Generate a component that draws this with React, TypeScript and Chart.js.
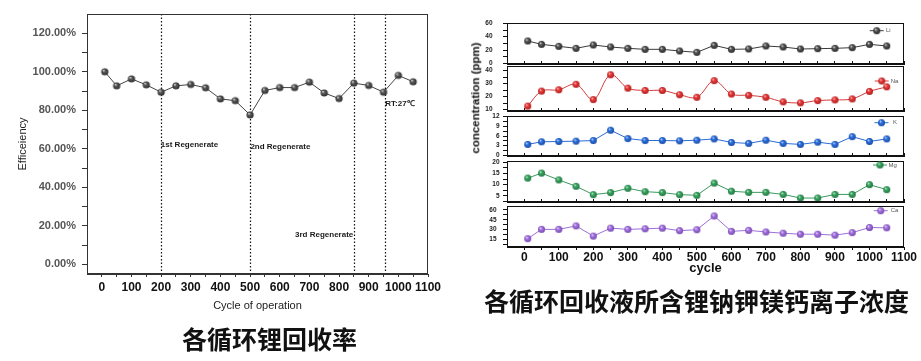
import React, { useEffect, useRef } from "react";
import { Chart, registerables } from "chart.js";

Chart.register(...registerables);
Chart.defaults.font.family = '"Liberation Sans", Arial, sans-serif';

// ---------------- data ----------------
const cycles = [10, 50, 100, 150, 200, 250, 300, 350, 400, 450, 500, 550, 600, 650, 700, 750, 800, 850, 900, 950, 1000, 1050];
const efficiency = [100, 92.7, 96.3, 93.2, 89.4, 92.7, 93.4, 91.7, 85.9, 85.0, 77.6, 90.3, 91.8, 91.8, 94.6, 89.0, 86.1, 94.1, 92.9, 89.4, 98.1, 94.8];
const regenerateCycles = [200, 500, 850, 955];

const liPpm = [33.5, 28.5, 25.5, 22.5, 27.5, 24.5, 22.5, 21, 21, 18.5, 16.5, 27, 21, 21.5, 26, 24.5, 21.5, 22, 22.5, 23.5, 28.5, 26];
const naPpm = [12.75, 24.25, 25.25, 29.5, 17.75, 36.75, 26.5, 24.75, 24.75, 21.5, 19.5, 32.25, 22, 21, 19.5, 16, 15.25, 17, 17.5, 18.25, 24, 27.5];
const kPpm = [3.4, 4.2, 4.3, 4.4, 4.6, 7.8, 5.2, 4.6, 4.6, 4.5, 4.7, 5.1, 4.0, 3.7, 4.7, 3.7, 3.4, 4.1, 3.4, 5.8, 4.3, 5.1];
const mgPpm = [12.9, 15.1, 12.1, 9.3, 5.6, 6.5, 8.4, 6.9, 6.5, 5.6, 5.3, 10.7, 7.1, 6.6, 6.6, 5.7, 4.1, 4.1, 5.7, 5.7, 10.0, 7.8];
const caPpm = [16, 30.2, 30.2, 35.5, 19.9, 32.1, 30.2, 31.1, 32.1, 28.2, 29.7, 50.7, 27.2, 28.7, 26.2, 24.3, 22.8, 22.8, 21.3, 25.2, 33.0, 32.6];

// tick values / labels
const cycleTicks = [0, 50, 100, 150, 200, 250, 300, 350, 400, 450, 500, 550, 600, 650, 700, 750, 800, 850, 900, 950, 1000, 1050, 1100];
const cycleLabels = [0, 100, 200, 300, 400, 500, 600, 700, 800, 900, 1000, 1100];
const efficiencyTicks = [0, 10, 20, 30, 40, 50, 60, 70, 80, 90, 100, 110, 120];
const efficiencyLabels = [0, 20, 40, 60, 80, 100, 120];
const liTicks = [0, 10, 20, 30, 40, 50, 60];
const liLabels = [0, 20, 40, 60];
const naTicks = [10, 15, 20, 25, 30, 35, 40];
const naLabels = [10, 20, 30, 40];
const kTicks = [0, 1.5, 3, 4.5, 6, 7.5, 9, 10.5, 12];
const kLabels = [0, 3, 6, 9, 12];
const mgTicks = [2.5, 5, 7.5, 10, 12.5, 15, 17.5, 20];
const mgLabels = [5, 10, 15, 20];
const caTicks = [7.5, 15, 22.5, 30, 37.5, 45, 52.5, 60];
const caLabels = [15, 30, 45, 60];

const annotations = [
  { label: "1st Regenerate", x: 199, y: 62, align: "left" },
  { label: "2nd Regenerate", x: 501, y: 61, align: "left" },
  { label: "3rd Regenerate", x: 848, y: 15.6, align: "right" },
  { label: "RT:27\u2103", x: 956, y: 83.5, align: "left" },
];

// ---------------- panel layout / styles ----------------
const panels = [
  { name: "Li", values: liPpm, ticks: liTicks, labels: liLabels, min: -1, max: 60.5, top: 23, bottom: 64, labelPad: 10.5, line: "#3a3a3a", ball: ["#e8e8e8", "#5a5a5a", "#262626"], tension: 0, legendBall: 876.7, legendText: 886, legendY: 30.7 },
  { name: "Na", values: naPpm, ticks: naTicks, labels: naLabels, min: 9, max: 43.5, top: 66, bottom: 111, labelPad: 10.5, line: "#d23a3a", ball: ["#ffd0d0", "#ea3d3d", "#b01c1c"], tension: 0.35, legendBall: 881.7, legendText: 890.7, legendY: 81 },
  { name: "K", values: kPpm, ticks: kTicks, labels: kLabels, min: -0.2, max: 12.2, top: 116, bottom: 156, labelPad: 3.5, line: "#2a6bd4", ball: ["#cfe0ff", "#2f75e2", "#174aa6"], tension: 0, legendBall: 881.5, legendText: 893, legendY: 122.7 },
  { name: "Mg", values: mgPpm, ticks: mgTicks, labels: mgLabels, min: 2.35, max: 20.45, top: 161, bottom: 202, labelPad: 3.5, line: "#3a9a5e", ball: ["#d0f2dc", "#3daa64", "#1e7440"], tension: 0, legendBall: 880, legendText: 888.5, legendY: 165 },
  { name: "Ca", values: caPpm, ticks: caTicks, labels: caLabels, min: 3.2, max: 66, top: 206, bottom: 247, labelPad: 6.5, line: "#9d6fd6", ball: ["#f0e0ff", "#a878e2", "#7446b0"], tension: 0, legendBall: 880.7, legendText: 890.7, legendY: 210.7 },
];

const RIGHT_LEFT = 460;
const RIGHT_W = 461;
const RIGHT_H = 280;

function makeBall(stops: string[], r: number): HTMLCanvasElement {
  const c = document.createElement("canvas");
  const s = Math.ceil(r * 2) + 2;
  c.width = s;
  c.height = s;
  const g = c.getContext("2d")!;
  const cx = s / 2;
  const cy = s / 2;
  const grad = g.createRadialGradient(cx - r * 0.35, cy - r * 0.4, r * 0.05, cx, cy, r);
  grad.addColorStop(0, stops[0]);
  grad.addColorStop(0.35, stops[1]);
  grad.addColorStop(1, stops[2]);
  g.fillStyle = grad;
  g.beginPath();
  g.arc(cx, cy, r, 0, Math.PI * 2);
  g.fill();
  return c;
}

function framePlugin(color: string) {
  return {
    id: "frame",
    afterDraw(chart: any) {
      const { ctx, chartArea: a } = chart;
      ctx.save();
      ctx.strokeStyle = color;
      ctx.lineWidth = 1;
      ctx.strokeRect(Math.round(a.left) + 0.5, Math.round(a.top) + 0.5, Math.round(a.right - a.left) - 1, Math.round(a.bottom - a.top) - 1);
      ctx.restore();
    },
  };
}

export default function App() {
  const leftRef = useRef<HTMLCanvasElement | null>(null);
  const panelRefs = useRef<(HTMLCanvasElement | null)[]>([]);

  useEffect(() => {
    document.body.style.margin = "0";
    const charts: Chart[] = [];

    // ---------- left chart ----------
    const grayBall = makeBall(["#dcdcdc", "#5c5c5c", "#2a2a2a"], 3.6);
    const regenLines = {
      id: "regenLines",
      beforeDatasetsDraw(chart: any) {
        const { ctx, chartArea: a, scales } = chart;
        ctx.save();
        ctx.strokeStyle = "#111";
        ctx.lineWidth = 1.2;
        ctx.setLineDash([1.5, 2]);
        regenerateCycles.forEach((c) => {
          const x = Math.round(scales.x.getPixelForValue(c)) + 0.5;
          ctx.beginPath();
          ctx.moveTo(x, a.top);
          ctx.lineTo(x, a.bottom);
          ctx.stroke();
        });
        ctx.restore();
      },
    };
    const annotationText = {
      id: "annotationText",
      afterDatasetsDraw(chart: any) {
        const { ctx, scales } = chart;
        ctx.save();
        ctx.fillStyle = "#1a1a1a";
        ctx.font = 'bold 8px "Liberation Sans", Arial, sans-serif';
        ctx.textBaseline = "middle";
        annotations.forEach((t) => {
          ctx.textAlign = t.align as CanvasTextAlign;
          ctx.fillText(t.label, scales.x.getPixelForValue(t.x), scales.y.getPixelForValue(t.y));
        });
        ctx.restore();
      },
    };

    if (leftRef.current) {
      charts.push(
        new Chart(leftRef.current, {
          type: "line",
          data: {
            datasets: [
              {
                data: cycles.map((c, i) => ({ x: c, y: efficiency[i] })),
                borderColor: "#444",
                borderWidth: 1,
                pointStyle: grayBall as any,
                pointRadius: 3.6,
                tension: 0,
              },
            ],
          },
          options: {
            responsive: false,
            animation: false,
            events: [],
            layout: { padding: { top: 14, right: 32, left: 0, bottom: 0 } },
            plugins: { legend: { display: false }, tooltip: { enabled: false } },
            scales: {
              x: {
                type: "linear",
                min: -50,
                max: 1100,
                afterBuildTicks: (s: any) => {
                  s.ticks = cycleTicks.map((v) => ({ value: v }));
                },
                afterFit: (s: any) => {
                  s.height = 46;
                },
                grid: { drawOnChartArea: false, tickLength: 3, color: "#333" },
                border: { color: "#333", width: 1 },
                ticks: {
                  autoSkip: false,
                  maxRotation: 0,
                  padding: 3,
                  color: "#111",
                  font: { size: 12, weight: "bold" },
                  callback: (v: any) => (cycleLabels.includes(v) ? String(v) : ""),
                },
                title: { display: true, text: "Cycle of operation", color: "#222", font: { size: 11 }, padding: { top: 0, bottom: 7 } },
              },
              y: {
                type: "linear",
                min: -5,
                max: 130,
                afterBuildTicks: (s: any) => {
                  s.ticks = efficiencyTicks.map((v) => ({ value: v }));
                },
                afterFit: (s: any) => {
                  s.width = 87;
                },
                grid: { drawOnChartArea: false, tickLength: 5, color: "#333" },
                border: { color: "#333", width: 1 },
                ticks: {
                  autoSkip: false,
                  padding: 6,
                  color: "#555",
                  font: { size: 11, weight: "bold" },
                  callback: (v: any) => (efficiencyLabels.includes(v) ? Number(v).toFixed(2) + "%" : ""),
                },
                title: { display: true, text: "Efficeiency", color: "#222", font: { size: 11 }, padding: { top: 16, bottom: 0 } },
              },
            },
          },
          plugins: [framePlugin("#333"), regenLines, annotationText],
        } as any)
      );
    }

    // ---------- right panels ----------
    panels.forEach((p, idx) => {
      const canvas = panelRefs.current[idx];
      if (!canvas) return;
      const isLast = idx === panels.length - 1;
      const ball = makeBall(p.ball, 3.5);
      const legendPlugin = {
        id: "panelLegend",
        afterDraw(chart: any) {
          const { ctx } = chart;
          const bx = p.legendBall - RIGHT_LEFT;
          const tx = p.legendText - RIGHT_LEFT;
          const y = p.legendY;
          ctx.save();
          ctx.strokeStyle = p.line;
          ctx.lineWidth = 1;
          ctx.beginPath();
          ctx.moveTo(bx - 7, y);
          ctx.lineTo(bx + 7, y);
          ctx.stroke();
          ctx.drawImage(ball, bx - ball.width / 2, y - ball.height / 2);
          ctx.fillStyle = "#555";
          ctx.font = '6px "Liberation Sans", Arial, sans-serif';
          ctx.textBaseline = "middle";
          ctx.textAlign = "left";
          ctx.fillText(p.name, tx, y);
          ctx.restore();
        },
      };
      charts.push(
        new Chart(canvas, {
          type: "line",
          data: {
            datasets: [
              {
                data: cycles.map((c, i) => ({ x: c, y: p.values[i] })),
                borderColor: p.line,
                borderWidth: 1,
                pointStyle: ball as any,
                pointRadius: 3.5,
                tension: p.tension,
              },
            ],
          },
          options: {
            responsive: false,
            animation: false,
            events: [],
            layout: { padding: { top: p.top, right: RIGHT_W - (904 - RIGHT_LEFT), left: 0, bottom: 0 } },
            plugins: { legend: { display: false }, tooltip: { enabled: false } },
            scales: {
              x: {
                type: "linear",
                min: -50,
                max: 1100,
                afterBuildTicks: (s: any) => {
                  s.ticks = cycleTicks.map((v) => ({ value: v }));
                },
                afterFit: (s: any) => {
                  s.height = RIGHT_H - p.bottom;
                },
                grid: { drawOnChartArea: false, tickLength: isLast ? 3 : -3, color: "#111" },
                border: { color: "#111", width: 1 },
                ticks: {
                  display: isLast,
                  autoSkip: false,
                  maxRotation: 0,
                  padding: 0,
                  color: "#111",
                  font: { size: 12, weight: "bold" },
                  callback: (v: any) => (cycleLabels.includes(v) ? String(v) : ""),
                },
                title: isLast
                  ? { display: true, text: "cycle", color: "#111", font: { size: 13, weight: "bold" }, padding: { top: 0, bottom: 4 } }
                  : { display: false },
              },
              y: {
                type: "linear",
                min: p.min,
                max: p.max,
                afterBuildTicks: (s: any) => {
                  s.ticks = p.ticks.map((v) => ({ value: v }));
                },
                afterFit: (s: any) => {
                  s.width = 507 - RIGHT_LEFT;
                },
                grid: { drawOnChartArea: false, tickLength: 4, color: "#111" },
                border: { color: "#111", width: 1 },
                ticks: {
                  autoSkip: false,
                  padding: p.labelPad,
                  color: "#222",
                  font: { size: 6.5, weight: "bold" },
                  callback: (v: any) => (p.labels.includes(v) ? String(v) : ""),
                },
              },
            },
          },
          plugins: [framePlugin("#111"), legendPlugin],
        } as any)
      );
    });

    return () => {
      charts.forEach((c) => c.destroy());
    };
  }, []);

  return (
    <div style={{ position: "absolute", left: 0, top: 0, width: 921, height: 361, background: "#fff", overflow: "hidden" }}>
      <canvas ref={leftRef} width={460} height={320} style={{ position: "absolute", left: 0, top: 0, width: 460, height: 320 }} />
      {panels.map((p, i) => (
        <canvas
          key={p.name}
          ref={(el) => {
            panelRefs.current[i] = el;
          }}
          width={RIGHT_W}
          height={RIGHT_H}
          style={{ position: "absolute", left: RIGHT_LEFT, top: 0, width: RIGHT_W, height: RIGHT_H }}
        />
      ))}
      <div
        style={{
          position: "absolute",
          left: 476,
          top: 98,
          transform: "translate(-50%, -50%) rotate(-90deg)",
          whiteSpace: "nowrap",
          font: 'bold 11.5px "Liberation Sans", Arial, sans-serif',
          color: "#111",
          lineHeight: 1,
        }}
      >
        concentration (ppm)
      </div>
      <div
        style={{
          position: "absolute",
          left: 696.5,
          top: 300,
          transform: "translate(-50%, -50%)",
          whiteSpace: "nowrap",
          font: '25px "Noto Sans CJK SC", sans-serif',
          fontWeight: 700,
          color: "#111",
          lineHeight: 1,
        }}
      >
        各循环回收液所含锂钠钾镁钙离子浓度
      </div>
      <div
        style={{
          position: "absolute",
          left: 269.5,
          top: 338,
          transform: "translate(-50%, -50%)",
          whiteSpace: "nowrap",
          font: '25px "Noto Sans CJK SC", sans-serif',
          fontWeight: 700,
          color: "#111",
          lineHeight: 1,
        }}
      >
        各循环锂回收率
      </div>
    </div>
  );
}
